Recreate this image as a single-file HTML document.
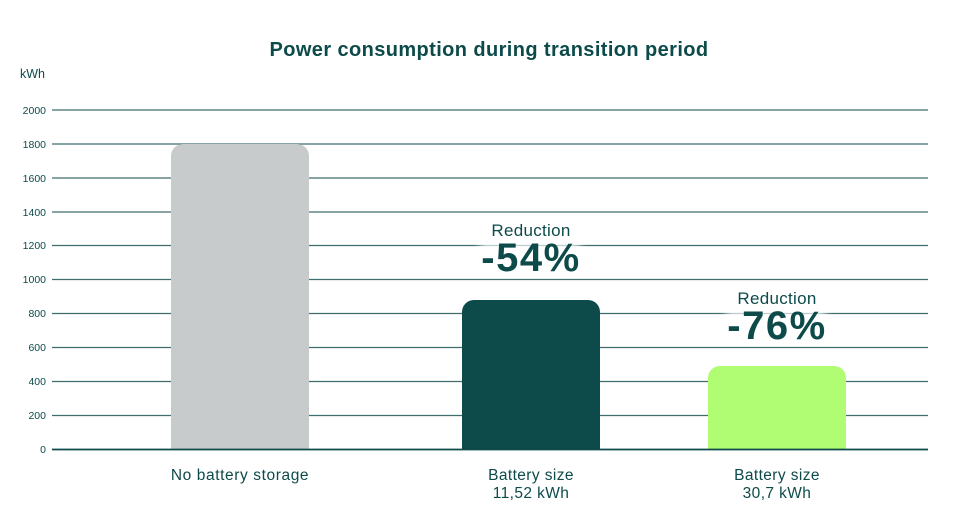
<!DOCTYPE html>
<html><head><meta charset="utf-8"><style>
html,body{margin:0;padding:0;background:#fff;}
svg{display:block;font-family:"Liberation Sans",sans-serif;}
.t{fill:#0d4a4a;}
</style></head><body>
<svg width="978" height="518" viewBox="0 0 978 518">
<defs><filter id="g" x="-20%" y="-20%" width="140%" height="140%"><feGaussianBlur stdDeviation="4"/></filter></defs>
<text x="489" y="56" text-anchor="middle" class="t" font-size="20" font-weight="bold" letter-spacing="0.4">Power consumption during transition period</text>
<text x="20" y="78" class="t" font-size="12.5">kWh</text>
<g stroke="#3f6e6e" stroke-width="1.3">
<line x1="52" x2="928" y1="110" y2="110"/><line x1="52" x2="928" y1="144" y2="144"/>
<line x1="52" x2="928" y1="178" y2="178"/><line x1="52" x2="928" y1="212" y2="212"/>
<line x1="52" x2="928" y1="245.5" y2="245.5"/><line x1="52" x2="928" y1="279.5" y2="279.5"/>
<line x1="52" x2="928" y1="313.5" y2="313.5"/><line x1="52" x2="928" y1="347.5" y2="347.5"/>
<line x1="52" x2="928" y1="381.5" y2="381.5"/><line x1="52" x2="928" y1="415.5" y2="415.5"/>
</g>
<g class="t" font-size="10.5" text-anchor="end">
<text x="46" y="114">2000</text><text x="46" y="148">1800</text><text x="46" y="182">1600</text>
<text x="46" y="216">1400</text><text x="46" y="249">1200</text><text x="46" y="283">1000</text>
<text x="46" y="317">800</text><text x="46" y="351">600</text><text x="46" y="385">400</text>
<text x="46" y="419">200</text><text x="46" y="453">0</text>
</g>
<path d="M171 449V156a12 12 0 0 1 12-12h114a12 12 0 0 1 12 12V449z" fill="#c8cbcb"/>
<path d="M462 449V312a12 12 0 0 1 12-12h114a12 12 0 0 1 12 12V449z" fill="#0d4a4a"/>
<path d="M708 449V378a12 12 0 0 1 12-12h114a12 12 0 0 1 12 12V449z" fill="#b0fc72"/>
<line x1="52" x2="928" y1="449.5" y2="449.5" stroke="#0d4a4a" stroke-width="1.8"/>
<rect x="480" y="242" width="100" height="30" fill="#fff" opacity="0.8" filter="url(#g)"/>
<rect x="726" y="310" width="100" height="30" fill="#fff" opacity="0.8" filter="url(#g)"/>
<g class="t" text-anchor="middle">
<text x="531" y="236" font-size="17" letter-spacing="0.3">Reduction</text>
<text x="531" y="271" font-size="40" font-weight="bold" letter-spacing="1.5">-54%</text>
<text x="777" y="304" font-size="17" letter-spacing="0.3">Reduction</text>
<text x="777" y="339" font-size="40" font-weight="bold" letter-spacing="1.5">-76%</text>
<text x="240" y="480" font-size="15.5" letter-spacing="0.6">No battery storage</text>
<text x="531" y="480" font-size="15.5" letter-spacing="0.4">Battery size</text>
<text x="531" y="498" font-size="15.5" letter-spacing="0.4">11,52 kWh</text>
<text x="777" y="480" font-size="15.5" letter-spacing="0.4">Battery size</text>
<text x="777" y="498" font-size="15.5" letter-spacing="0.4">30,7 kWh</text>
</g>
</svg>
</body></html>
